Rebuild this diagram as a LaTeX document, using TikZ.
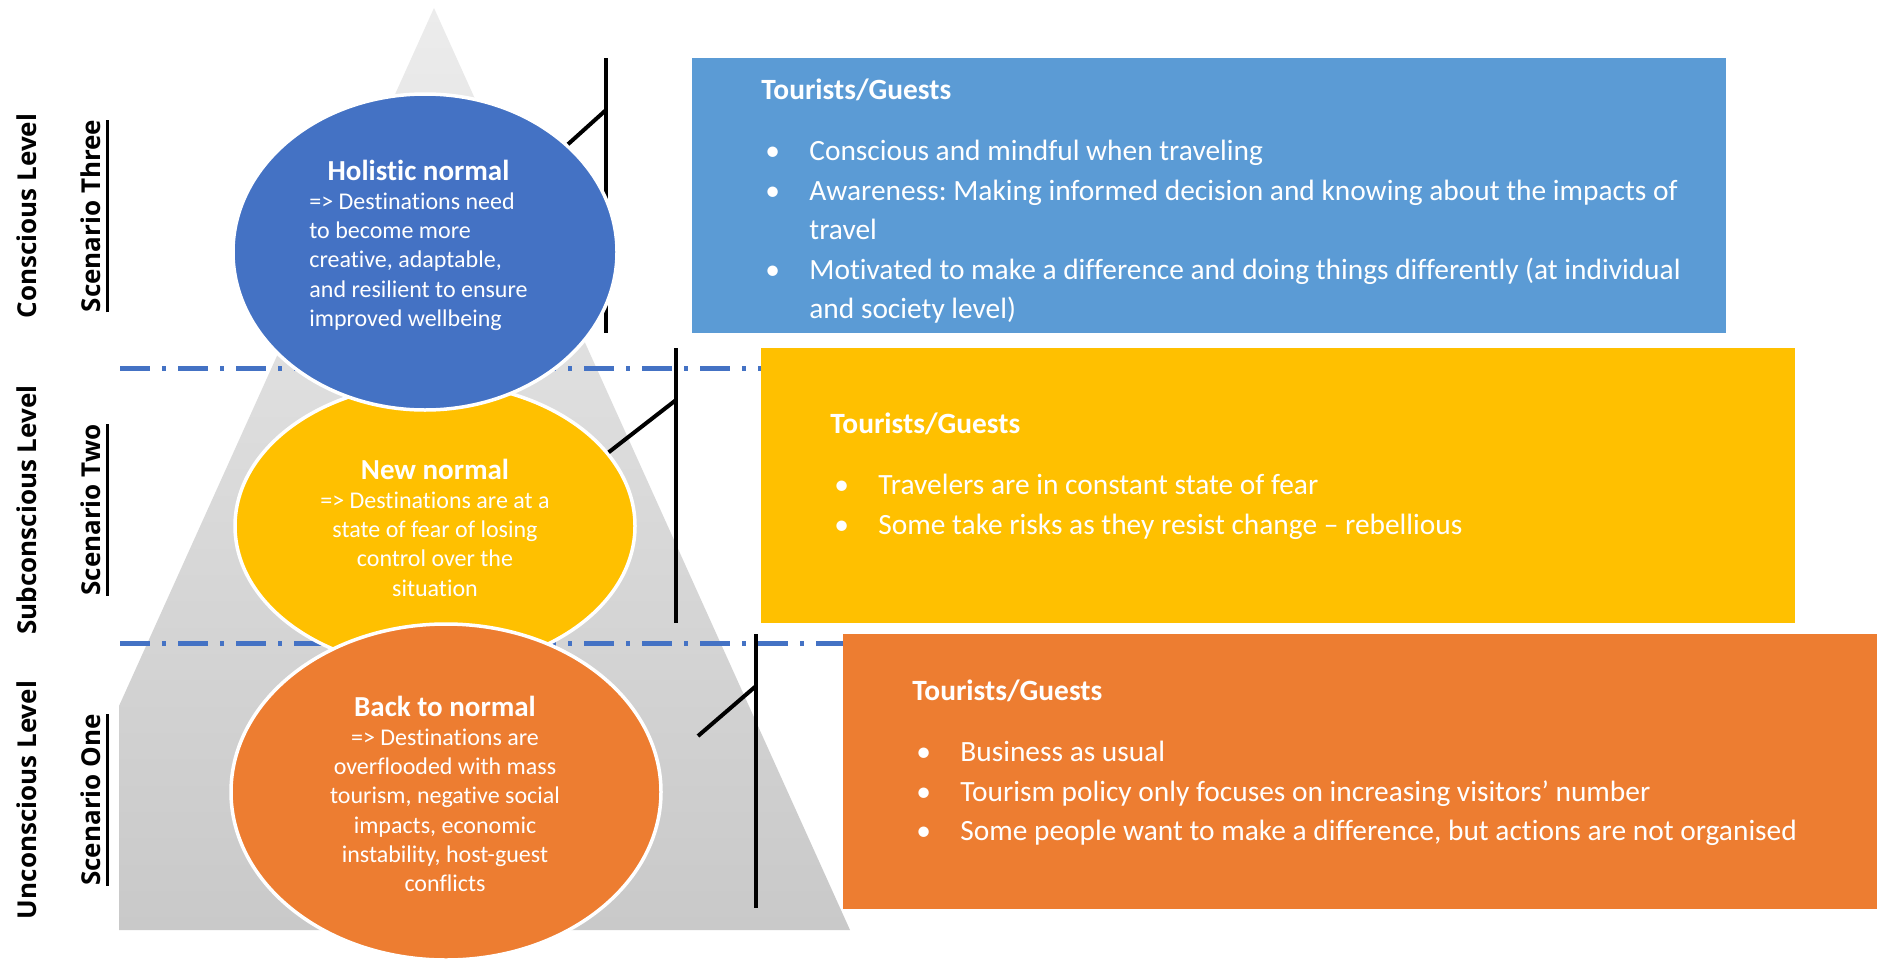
\documentclass[tikz,border=0pt]{standalone}
\usepackage{fontspec}
\setmainfont{Carlito}[Ligatures=NoCommon]
\newfontfamily\levelfont{Open Sans}
\usetikzlibrary{shapes.geometric, positioning, calc}
\definecolor{blue1}{RGB}{68, 114, 196}
\definecolor{blue2}{RGB}{91, 155, 213}
\definecolor{yellow1}{RGB}{255, 192, 0}
\definecolor{orange1}{RGB}{237, 125, 49}
\definecolor{grey1}{RGB}{236, 236, 236}
\definecolor{grey2}{RGB}{201, 201, 201}
\frenchspacing
\newsavebox{\scenbox}
\newcommand{\scenline}[1]{\sbox{\scenbox}{#1}\rlap{\rule[-4pt]{\wd\scenbox}{1.5pt}}\usebox{\scenbox}}
\newcommand{\bul}{\makebox[24pt][l]{\hspace{2pt}\textbullet}}
\newcommand{\cont}{\hspace{24pt}}
\newcommand{\ovaltitle}{\fontsize{14.5}{17}\selectfont\bfseries}

\tikzset{
  lvllabel/.style={rotate=90, inner sep=0pt, font=\levelfont\fontsize{13}{15}\selectfont\bfseries},
  oval/.style={ellipse, draw=white, line width=1.75pt, inner sep=0pt},
  ovaltext/.style={text=white, inner sep=0pt, font=\fontsize{12}{14.65}\selectfont},
  infobox/.style={rectangle, inner sep=0pt, minimum width=517pt, minimum height=137.5pt, anchor=north west},
  infotext/.style={text=white, inner sep=0pt, anchor=base west, font=\fontsize{14.7}{19.75}\selectfont},
  bracket/.style={black, line width=2pt},
  levelline/.style={blue1, line width=2.5pt, dash pattern=on 15pt off 6pt on 2pt off 6pt}
}

\begin{document}
\begin{tikzpicture}[x=0.5pt, y=-0.5pt]
  \useasboundingbox (0,0) rectangle (1877,958);
  \fill[white] (0,0) rectangle (1877,958);

  % pyramid behind the three levels
  \shade[top color=grey1, bottom color=grey2] (434,8) -- (850,930) -- (119,930) -- (119,706) -- cycle;

  % level and scenario labels
  \node[lvllabel] (conscious) at (27,216) {Conscious Level};
  \node[lvllabel] (subconscious) at (27,510) {Subconscious Level};
  \node[lvllabel] (unconscious) at (27,800) {Unconscious Level};
  \node[lvllabel] (scenthree) at (95,216) {\scenline{Scenario Three}};
  \node[lvllabel] (scentwo) at (95,510) {\scenline{Scenario Two}};
  \node[lvllabel] (scenone) at (95,800) {\scenline{Scenario One}};

  % tourists/guests boxes
  \node[infobox, fill=blue2] (conbox) at (692,58) {};
  \node[infobox, fill=yellow1] (subbox) at (761,348) {};
  \node[infobox, fill=orange1] (unbox) at (843,634) {};

  \node[infotext] (context) at ([shift={(69,41)}]conbox.north west) {%
    \begin{tabular}[t]{@{}l@{}}
      \textbf{Tourists/Guests}\\[11pt]
      \bul Conscious and mindful when traveling\\
      \bul Awareness: Making informed decision and knowing about the impacts of\\
      \cont travel\\
      \bul Motivated to make a difference and doing things differently (at individual\\
      \cont and society level)
    \end{tabular}};
  \node[infotext] (subtext) at ([shift={(69,85)}]subbox.north west) {%
    \begin{tabular}[t]{@{}l@{}}
      \textbf{Tourists/Guests}\\[11pt]
      \bul Travelers are in constant state of fear\\
      \bul Some take risks as they resist change -- rebellious
    \end{tabular}};
  \node[infotext] (untext) at ([shift={(69,66)}]unbox.north west) {%
    \begin{tabular}[t]{@{}l@{}}
      \textbf{Tourists/Guests}\\[11pt]
      \bul Business as usual\\
      \bul Tourism policy only focuses on increasing visitors’ number\\
      \bul Some people want to make a difference, but actions are not organised
    \end{tabular}};

  % level borders
  \coordinate (borderone) at (120,368);
  \coordinate (bordertwo) at (120,643);
  \draw[levelline] (borderone) -- (borderone -| subbox.west);
  \draw[levelline] (bordertwo) -- (bordertwo -| unbox.west);

  % brackets beside the boxes
  \coordinate (brthreetop) at (606,58);
  \coordinate (brthreebot) at (606,333);
  \coordinate (brthreemid) at (606,110);
  \coordinate (brtwotop) at (676,348);
  \coordinate (brtwobot) at (676,623);
  \coordinate (brtwomid) at (676,400);
  \coordinate (bronetop) at (756,634);
  \coordinate (bronebot) at (756,908);
  \coordinate (bronemid) at (756,686);
  \coordinate (bronefoot) at (698,736);
  \draw[bracket] (brthreetop) -- (brthreebot);
  \draw[bracket] (brtwotop) -- (brtwobot);
  \draw[bracket] (bronetop) -- (bronebot);

  % scenario ellipses
  \node[oval, fill=yellow1, minimum width=200pt, minimum height=143pt] (newnormal) at (435,526) {};
  \node[oval, fill=orange1, minimum width=215pt, minimum height=168pt] (backnormal) at (446,792) {};
  \node[oval, fill=blue1, minimum width=192pt, minimum height=158pt] (holistic) at (425,252) {};

  \draw[bracket] (holistic.37) -- (brthreemid);
  \draw[bracket] (newnormal.23) -- (brtwomid);
  \draw[bracket] (bronefoot) -- (bronemid);

  \node[ovaltext, anchor=base west] (holistictext) at (309,180) {%
    \begin{tabular}[t]{@{}l@{}}
      \multicolumn{1}{@{}c@{}}{\ovaltitle Holistic normal}\\
      => Destinations need\\
      to become more\\
      creative, adaptable,\\
      and resilient to ensure\\
      improved wellbeing
    \end{tabular}};
  \node[ovaltext, anchor=base] (newtext) at (435,479) {%
    \begin{tabular}[t]{@{}c@{}}
      {\ovaltitle New normal}\\
      => Destinations are at a\\
      state of fear of losing\\
      control over the\\
      situation
    \end{tabular}};
  \node[ovaltext, anchor=base] (backtext) at (445,716) {%
    \begin{tabular}[t]{@{}c@{}}
      {\ovaltitle Back to normal}\\
      => Destinations are\\
      overflooded with mass\\
      tourism, negative social\\
      impacts, economic\\
      instability, host-guest\\
      conflicts
    \end{tabular}};
\end{tikzpicture}
\end{document}
